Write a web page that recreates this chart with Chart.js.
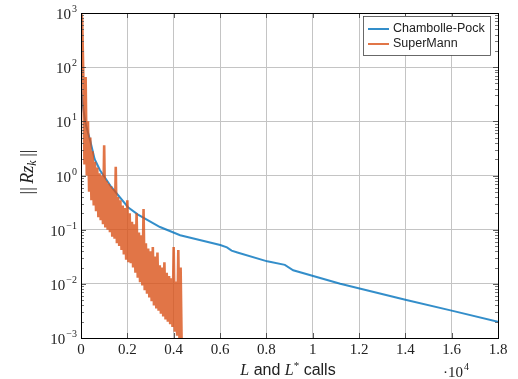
<!DOCTYPE html>
<html>
<head>
<meta charset="utf-8">
<script src="https://cdn.jsdelivr.net/npm/chart.js@4.4.0/dist/chart.umd.min.js"></script>
<style>
    html, body { margin: 0; padding: 0; background: #fff; }
</style>
</head>
<body>
<canvas id="chart" width="518" height="379"></canvas>
<script>
// Chambolle-Pock: residual vs number of L and L* calls
const cpCalls = [0, 100, 200, 390, 590, 820, 1300, 2030, 2460, 3410, 4280, 6010, 6300, 6500, 6750, 8040, 8800, 9160, 11190, 14000, 16000, 18000];
const cpResidual = [40, 17, 9, 4.5, 2.0, 1.25, 0.62, 0.26, 0.19, 0.112, 0.079, 0.052, 0.047, 0.041, 0.038, 0.026, 0.0224, 0.0178, 0.010, 0.0051, 0.0032, 0.002];

// SuperMann: one sample every 50 calls, oscillating residual
const smStep = 50;
const smResidual = [
    1e3, 800, 66, 1.6, 66, 1.0, 10, 0.5, 5, 0.35,
    2.8, 0.28, 1.8, 0.22, 1.4, 0.17, 1.1, 0.15, 1.0, 0.126,
    3.6, 0.11, 0.8, 0.1, 0.7, 0.09, 0.63, 0.074, 0.56, 0.068,
    1.45, 0.056, 0.4, 0.05, 0.35, 0.042, 0.28, 0.035, 0.25, 0.028,
    0.35, 0.025, 0.2, 0.024, 0.14, 0.02, 0.126, 0.016, 0.2, 0.013,
    0.089, 0.0107, 0.079, 0.0093, 0.24, 0.0076, 0.056, 0.0066, 0.045, 0.0056,
    0.04, 0.0048, 0.048, 0.004, 0.032, 0.0035, 0.038, 0.0032, 0.022, 0.0028,
    0.02, 0.0025, 0.025, 0.0022, 0.016, 0.002, 0.014, 0.0018, 0.0126, 0.0016,
    0.048, 0.0013, 0.011, 0.0011, 0.042, 0.001, 0.02, 0.0005
];

const xTickValues = [0, 2000, 4000, 6000, 8000, 10000, 12000, 14000, 16000, 18000];
const xTickLabels = ['0', '0.2', '0.4', '0.6', '0.8', '1', '1.2', '1.4', '1.6', '1.8'];
const yTickValues = [1e-3, 1e-2, 1e-1, 1e0, 1e1, 1e2, 1e3];
const yTickExponents = ['\u22123', '\u22122', '\u22121', '0', '1', '2', '3'];

const legendItems = [
    { label: 'Chambolle-Pock', color: 'rgba(0,114,189,0.8)' },
    { label: 'SuperMann', color: 'rgba(217,83,25,0.8)' }
];

const SERIF = '"Liberation Serif", "DejaVu Serif", serif';
const SANS = '"Liberation Sans", Arial, sans-serif';

const cpPoints = cpCalls.map((c, i) => ({ x: c, y: cpResidual[i] }));
const smPoints = smResidual.map((r, i) => ({ x: i * smStep, y: r }));

// draws frame, minor ticks, y labels, axis titles and legend
const extras = {
    id: 'extras',
    afterDraw(chart) {
        const { ctx, chartArea: a, scales: { x, y } } = chart;
        ctx.save();

        // minor ticks on left and right edges
        ctx.strokeStyle = '#555';
        ctx.lineWidth = 0.8;
        for (let e = -3; e < 3; e++) {
            for (let m = 2; m <= 9; m++) {
                const py = Math.round(y.getPixelForValue(m * Math.pow(10, e))) + 0.5;
                ctx.beginPath();
                ctx.moveTo(a.left, py); ctx.lineTo(a.left + 3, py);
                ctx.moveTo(a.right, py); ctx.lineTo(a.right - 3, py);
                ctx.stroke();
            }
        }
        // major ticks
        ctx.strokeStyle = '#333';
        yTickValues.forEach(v => {
            const py = Math.round(y.getPixelForValue(v)) + 0.5;
            ctx.beginPath();
            ctx.moveTo(a.left, py); ctx.lineTo(a.left + 5, py);
            ctx.moveTo(a.right, py); ctx.lineTo(a.right - 5, py);
            ctx.stroke();
        });
        xTickValues.forEach(v => {
            const px = Math.round(x.getPixelForValue(v)) + 0.5;
            ctx.beginPath();
            ctx.moveTo(px, a.bottom); ctx.lineTo(px, a.bottom - 5);
            ctx.moveTo(px, a.top); ctx.lineTo(px, a.top + 5);
            ctx.stroke();
        });

        // frame
        ctx.strokeStyle = '#000';
        ctx.lineWidth = 1;
        ctx.strokeRect(Math.round(a.left) + 0.5, Math.round(a.top) + 0.5,
            Math.round(a.right - a.left), Math.round(a.bottom - a.top));

        // y tick labels 10^n
        ctx.fillStyle = '#222';
        ctx.textBaseline = 'alphabetic';
        yTickValues.forEach((v, i) => {
            const py = y.getPixelForValue(v);
            ctx.font = '10px ' + SERIF;
            const ew = ctx.measureText(yTickExponents[i]).width;
            ctx.textAlign = 'right';
            ctx.fillText(yTickExponents[i], a.left - 4, py - 1);
            ctx.font = '15px ' + SERIF;
            ctx.fillText('10', a.left - 5 - ew, py + 6);
        });

        // y title ||Rz_k||
        ctx.save();
        ctx.translate(27, 172);
        ctx.rotate(-Math.PI / 2);
        const yParts = [
            { t: '||\u2009', f: '18px ' + SERIF, dy: 0 },
            { t: 'Rz', f: 'italic 18px ' + SERIF, dy: 0 },
            { t: 'k', f: 'italic 12px ' + SERIF, dy: 3 },
            { t: '\u2009||', f: '18px ' + SERIF, dy: 0 }
        ];
        drawParts(ctx, yParts, 0, 6);
        ctx.restore();

        // x title L and L* calls
        const xParts = [
            { t: 'L', f: 'italic 16px ' + SERIF, dy: 0 },
            { t: ' and ', f: '16px ' + SANS, dy: 0 },
            { t: 'L', f: 'italic 16px ' + SERIF, dy: 0 },
            { t: '*', f: '11px ' + SERIF, dy: -6 },
            { t: ' calls', f: '16px ' + SANS, dy: 0 }
        ];
        drawParts(ctx, xParts, 288, 375);

        // scale factor ·10^4
        ctx.textAlign = 'left';
        ctx.font = '15px ' + SERIF;
        ctx.fillText('\u00b710', 443, 377);
        const w10 = ctx.measureText('\u00b710').width;
        ctx.font = '10px ' + SERIF;
        ctx.fillText('4', 443 + w10 + 1, 370);

        // legend
        ctx.fillStyle = '#fff';
        ctx.fillRect(363, 16, 127, 39);
        ctx.strokeStyle = '#444';
        ctx.lineWidth = 0.8;
        ctx.strokeRect(363.5, 16.5, 127, 39);
        ctx.font = '12.5px ' + SANS;
        ctx.textBaseline = 'middle';
        legendItems.forEach((it, i) => {
            const ly = 29 + i * 15;
            ctx.strokeStyle = it.color;
            ctx.lineWidth = 2;
            ctx.beginPath();
            ctx.moveTo(368, ly); ctx.lineTo(389, ly);
            ctx.stroke();
            ctx.fillStyle = '#222';
            ctx.fillText(it.label, 393, ly);
        });

        ctx.restore();
    }
};

function drawParts(ctx, parts, cx, base) {
    ctx.textAlign = 'left';
    ctx.textBaseline = 'alphabetic';
    let total = 0;
    parts.forEach(p => { ctx.font = p.f; p.w = ctx.measureText(p.t).width; total += p.w; });
    let px = cx - total / 2;
    ctx.fillStyle = '#222';
    parts.forEach(p => {
        ctx.font = p.f;
        ctx.fillText(p.t, px, base + p.dy);
        px += p.w;
    });
}

const ctx = document.querySelector('#chart').getContext('2d');
new Chart(ctx, {
    type: 'line',
    data: {
        datasets: [
            {
                label: 'SuperMann',
                data: smPoints,
                borderColor: 'rgba(217,83,25,0.8)',
                borderWidth: 2.6,
                borderJoinStyle: 'bevel',
                pointRadius: 0,
                tension: 0,
                order: 0
            },
            {
                label: 'Chambolle-Pock',
                data: cpPoints,
                borderColor: 'rgba(0,114,189,0.8)',
                borderWidth: 2,
                pointRadius: 0,
                tension: 0,
                order: 1
            }
        ]
    },
    options: {
        responsive: false,
        animation: false,
        devicePixelRatio: 1,
        layout: { padding: { top: 13, right: 20, left: 0, bottom: 0 } },
        plugins: { legend: { display: false }, tooltip: { enabled: false } },
        scales: {
            x: {
                type: 'linear',
                min: 0,
                max: 18000,
                afterBuildTicks: s => { s.ticks = xTickValues.map(v => ({ value: v })); },
                afterFit: s => { s.height = 41; },
                ticks: {
                    autoSkip: false,
                    maxRotation: 0,
                    padding: 3,
                    color: '#222',
                    font: { family: SERIF, size: 15 },
                    callback: (v) => xTickLabels[xTickValues.indexOf(v)]
                },
                grid: { color: '#c4c4c4', lineWidth: 1, drawTicks: false },
                border: { display: false }
            },
            y: {
                type: 'logarithmic',
                min: 1e-3,
                max: 1e3,
                afterBuildTicks: s => { s.ticks = yTickValues.map(v => ({ value: v })); },
                afterFit: s => { s.width = 81; },
                ticks: { display: false },
                grid: { color: '#c4c4c4', lineWidth: 1, drawTicks: false },
                border: { display: false }
            }
        }
    },
    plugins: [extras]
});
</script>
</body>
</html>
